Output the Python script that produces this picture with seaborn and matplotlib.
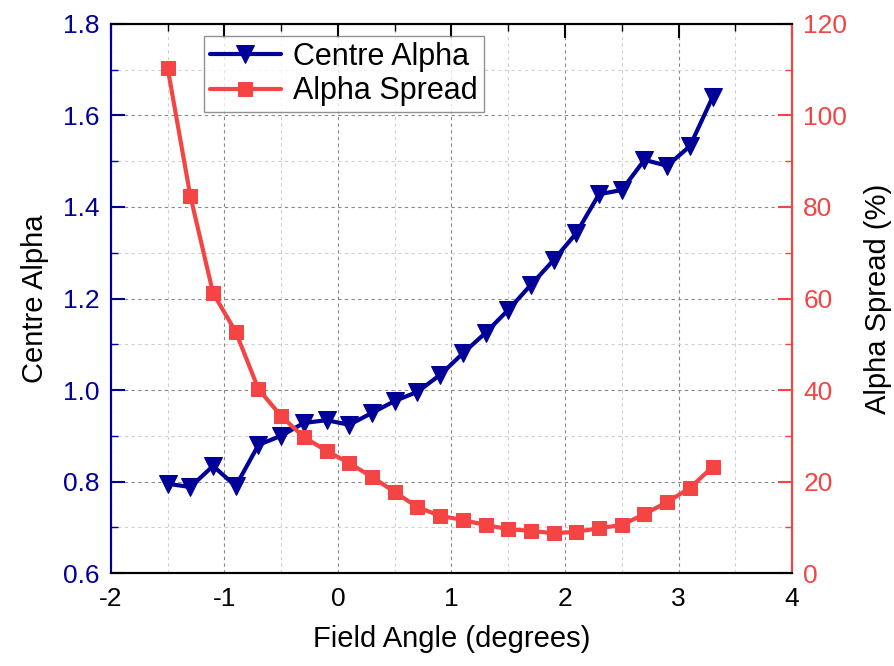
import numpy as np
import pandas as pd
import seaborn as sns
import matplotlib.pyplot as plt
from matplotlib.ticker import MultipleLocator

field_angle = [-1.5, -1.3, -1.1, -0.9, -0.7, -0.5, -0.3, -0.1, 0.1, 0.3, 0.5, 0.7, 0.9,
               1.1, 1.3, 1.5, 1.7, 1.9, 2.1, 2.3, 2.5, 2.7, 2.9, 3.1, 3.3]
centre_alpha = [0.795, 0.788, 0.834, 0.790, 0.880, 0.900, 0.928, 0.934, 0.924, 0.950,
                0.976, 0.996, 1.033, 1.080, 1.125, 1.175, 1.230, 1.284, 1.343, 1.428,
                1.437, 1.503, 1.490, 1.533, 1.640]
alpha_spread = [110.4, 82.4, 61.2, 52.7, 40.2, 34.3, 29.7, 26.7, 24.0, 21.0, 17.7, 14.4,
                12.5, 11.6, 10.5, 9.6, 9.2, 8.7, 9.0, 9.8, 10.5, 12.9, 15.5, 18.6, 23.2]

df = pd.DataFrame({"angle": field_angle, "centre": centre_alpha, "spread": alpha_spread})

sns.set_style("white")
plt.rcParams["font.family"] = ["Liberation Sans", "DejaVu Sans"]
plt.rcParams["text.color"] = "black"
plt.rcParams["axes.labelcolor"] = "black"

navy = "#000099"
red = "#f44444"

fig = plt.figure(figsize=(8.94, 6.66), dpi=100)
ax = fig.add_axes([0.124, 0.1396, 0.762, 0.8244])
ax2 = ax.twinx()

sns.lineplot(x="angle", y="centre", data=df, ax=ax, color=navy, marker="v",
             markersize=13, markeredgecolor=navy, linewidth=3, label="Centre Alpha",
             legend=False)
sns.lineplot(x="angle", y="spread", data=df, ax=ax2, color=red, marker="s",
             markersize=10, markeredgecolor=red, linewidth=3, label="Alpha Spread",
             legend=False)

ax.set_xlim(-2, 4)
ax.set_ylim(0.6, 1.8)
ax2.set_ylim(0, 120)

ax.xaxis.set_major_locator(MultipleLocator(1))
ax.xaxis.set_minor_locator(MultipleLocator(0.5))
ax.yaxis.set_major_locator(MultipleLocator(0.2))
ax.yaxis.set_minor_locator(MultipleLocator(0.1))
ax2.yaxis.set_major_locator(MultipleLocator(20))
ax2.yaxis.set_minor_locator(MultipleLocator(10))
ax.yaxis.set_major_formatter(plt.FuncFormatter(lambda v, p: f"{v:.1f}"))
ax.xaxis.set_major_formatter(plt.FuncFormatter(lambda v, p: f"{v:g}"))

ax.grid(which="major", color="#888888", linestyle=(0, (3, 3)), linewidth=0.8)
ax.grid(which="minor", color="#d0d0d0", linestyle=(0, (3, 3)), linewidth=0.8)
ax.set_axisbelow(True)

ax.tick_params(axis="x", which="both", direction="in", top=True, labelsize=19,
               colors="black", pad=10)
ax.tick_params(axis="x", which="major", length=10, width=1.5)
ax.tick_params(axis="x", which="minor", length=5, width=1)
ax.tick_params(axis="y", which="both", direction="in", colors=navy, labelsize=19, pad=8)
ax.tick_params(axis="y", which="major", length=10, width=1.5)
ax.tick_params(axis="y", which="minor", length=5, width=1)
ax2.tick_params(axis="y", which="both", direction="in", colors=red, labelsize=19, pad=8)
ax2.tick_params(axis="y", which="major", length=10, width=1.5)
ax2.tick_params(axis="y", which="minor", length=5, width=1)

for a in (ax, ax2):
    a.spines["top"].set_color("black")
    a.spines["bottom"].set_color("black")
    for s in a.spines.values():
        s.set_linewidth(1.5)
ax2.spines["left"].set_color(navy)
ax2.spines["right"].set_color(red)
ax.spines["left"].set_color(navy)

ax.set_xlabel("Field Angle (degrees)", fontsize=21, labelpad=10, color="black")
ax.set_ylabel("Centre Alpha", fontsize=21, labelpad=10, color="black")
ax2.set_ylabel("Alpha Spread (%)", fontsize=21, labelpad=12, color="black")

h1, l1 = ax.get_legend_handles_labels()
h2, l2 = ax2.get_legend_handles_labels()
leg = ax2.legend(h1 + h2, l1 + l2, loc="upper left", bbox_to_anchor=(0.128, 0.99),
                 fontsize=22, frameon=True, fancybox=False, edgecolor="#777777",
                 handlelength=2.3, borderpad=0.2, labelspacing=0.15, handletextpad=0.4,
                 borderaxespad=0.2)
leg.get_frame().set_linewidth(1)
for t in leg.get_texts():
    t.set_color("black")

fig.savefig("out.png", dpi=100)
